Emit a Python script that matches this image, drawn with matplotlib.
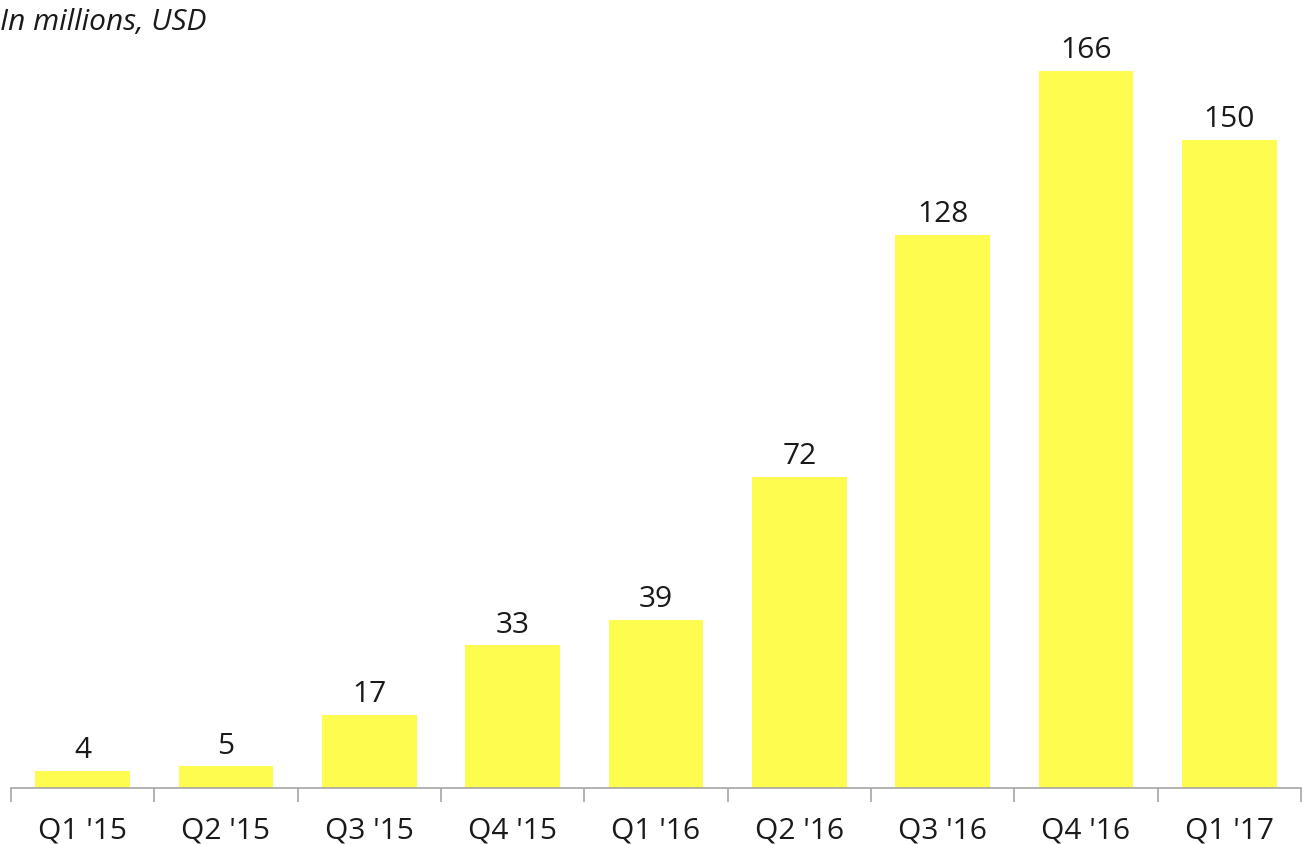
import matplotlib
matplotlib.use('Agg')
import matplotlib.pyplot as plt
import numpy as np

quarters = ["Q1 '15", "Q2 '15", "Q3 '15", "Q4 '15", "Q1 '16", "Q2 '16", "Q3 '16", "Q4 '16", "Q1 '17"]
revenue = [4, 5, 17, 33, 39, 72, 128, 166, 150]

BAR_COLOR = '#FFFC50'
TEXT_COLOR = '#1a1a1a'
AXIS_COLOR = '#a6a6a6'
FS = 21.5

plt.rcParams['font.family'] = ['Open Sans', 'DejaVu Sans']

fig = plt.figure(figsize=(13.1, 8.44), dpi=100)
ax = fig.add_axes([11 / 1310, 56 / 844, 1290 / 1310, 748 / 844])

x = np.arange(len(quarters))
ax.bar(x, revenue, width=0.66, color=BAR_COLOR, zorder=2)
for xi, v in zip(x, revenue):
    ax.annotate(str(v), (xi, v), xytext=(0, 4), textcoords='offset points',
                ha='center', va='bottom', fontsize=FS, color=TEXT_COLOR)

ax.set_xlim(-0.5, len(quarters) - 0.5)
ax.set_ylim(0, 748 / 4.32)

for side in ['top', 'right', 'left']:
    ax.spines[side].set_visible(False)
ax.spines['bottom'].set_color(AXIS_COLOR)
ax.spines['bottom'].set_linewidth(1.2)
ax.set_yticks([])

# category boundaries carry the tick marks, labels sit in between
ax.set_xticks(np.arange(-0.5, len(quarters), 1.0))
ax.set_xticklabels([])
ax.tick_params(axis='x', which='major', length=10, color=AXIS_COLOR, width=1.2)
ax.set_xticks(x, minor=True)
ax.set_xticklabels(quarters, minor=True, fontsize=FS, color=TEXT_COLOR)
ax.tick_params(axis='x', which='minor', length=0, pad=20.5)

fig.text(0.0, 1 - 22 / 844, 'In millions, USD', ha='left', va='center',
         fontsize=FS, style='italic', color=TEXT_COLOR)

fig.savefig('out.png', dpi=100, facecolor='white')
